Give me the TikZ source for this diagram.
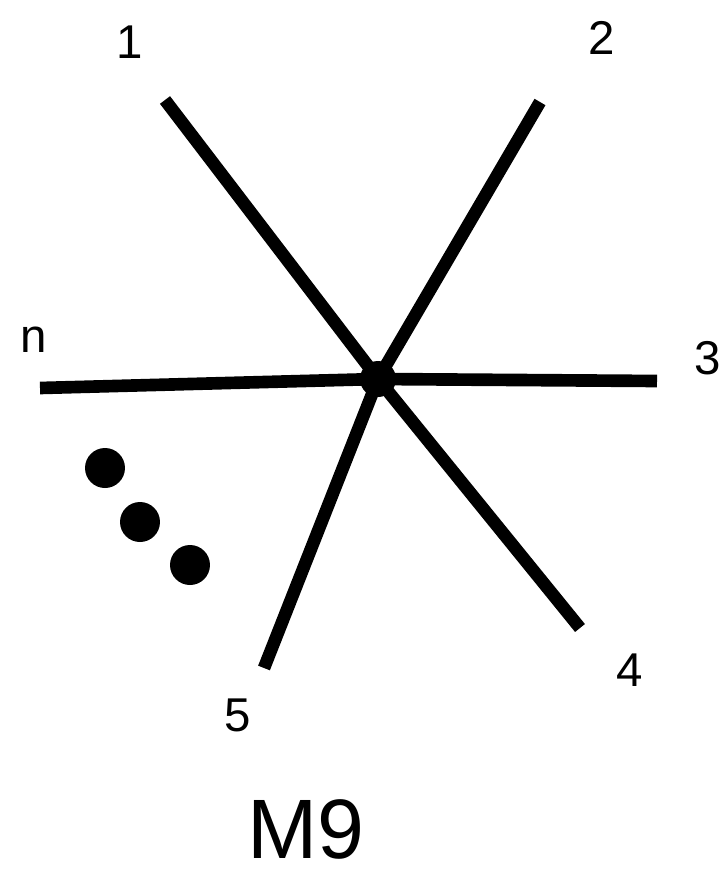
\documentclass[tikz,border=0pt]{standalone}
\usepackage{fontspec}
\setmainfont{Liberation Sans}
\usetikzlibrary{positioning}
\tikzset{
  spoke/.style={line width=7.2pt, line cap=butt, draw=black},
  lbl/.style={font=\fontsize{27}{30}\selectfont, inner sep=0pt},
  dotc/.style={circle, fill=black, inner sep=0pt, minimum size=0.8cm}
}
\begin{document}
\begin{tikzpicture}[x=0.02cm, y=-0.02cm]
\useasboundingbox (0,0) rectangle (726,876);
% ---- hub and spoke ends ----
\node[dotc, minimum size=0.72cm] (hub) at (378,379) {};
\coordinate (e1) at (165,100);
\coordinate (e2) at (540,102);
\coordinate (e3) at (657,381);
\coordinate (e4) at (580,628);
\coordinate (e5) at (264,668);
\coordinate (en) at (40,388);
% ---- spokes ----
\foreach \e in {e1,e2,e3,e4,e5,en}
  \draw[spoke] (hub.center) -- (\e);
% ---- labels ----
\node[lbl] (l1) at (130,42) {1};
\node[lbl] (l2) at (602,38) {2};
\node[lbl] (l3) at (708,358) {3};
\node[lbl] (l4) at (630,670) {4};
\node[lbl] (l5) at (238,715) {5};
\node[lbl] (ln) at (34,340) {n};
% ---- ellipsis dots ----
\node[dotc] (d1) at (105,468) {};
\node[dotc] (d2) at (140,522) {};
\node[dotc] (d3) at (190,565) {};
% ---- title ----
\node[font=\fontsize{48}{52}\selectfont, inner sep=0pt, anchor=base] (ttl) at (306,858) {M9};
\end{tikzpicture}
\end{document}
